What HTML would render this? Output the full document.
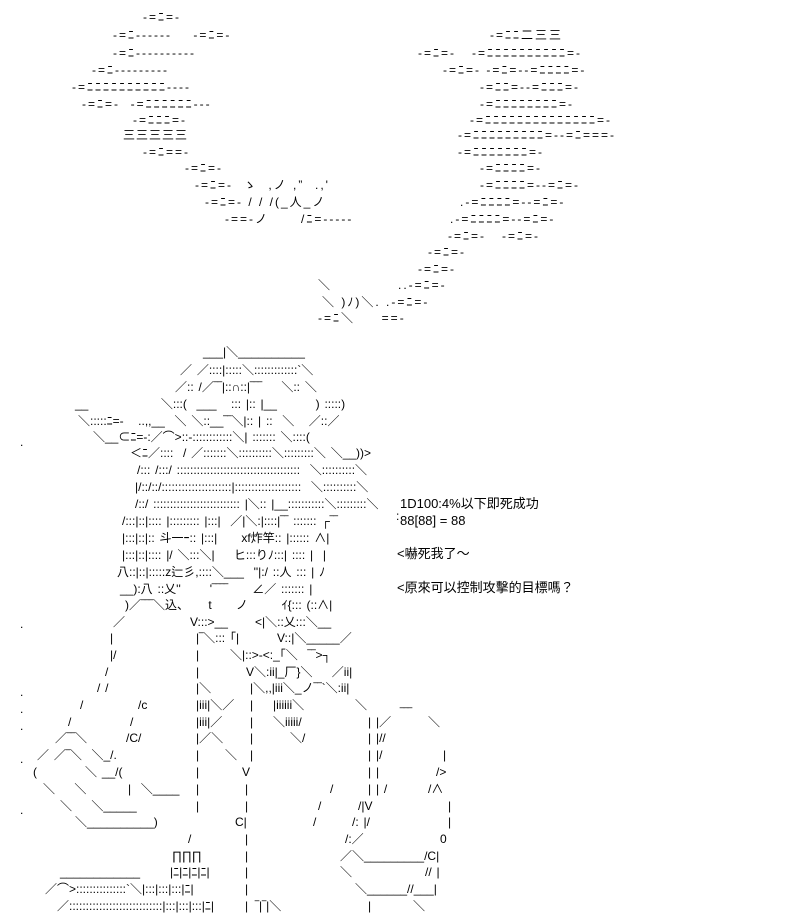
<!DOCTYPE html>
<html><head><meta charset="utf-8"><style>
body{margin:0;background:#fff;width:800px;height:924px;overflow:hidden;position:relative}
.l{position:absolute;white-space:pre;font-family:"Liberation Sans","Noto Sans CJK JP",sans-serif;font-size:12px;line-height:16px;color:#000;word-spacing:1.5px}
.c{letter-spacing:2px;word-spacing:0}
.t{font-size:13px;word-spacing:0}
</style></head><body>
<div class="l c" style="left:143px;top:9px">-=ﾆ=-</div>
<div class="l c" style="left:113px;top:27px">-=ﾆ------    -=ﾆ=-</div>
<div class="l c" style="left:490px;top:27px">-=ﾆﾆ二三三</div>
<div class="l c" style="left:113px;top:45px">-=ﾆ----------</div>
<div class="l c" style="left:418px;top:45px">-=ﾆ=-   -=ﾆﾆﾆﾆﾆﾆﾆﾆﾆﾆ=-</div>
<div class="l c" style="left:92px;top:62px">-=ﾆ---------</div>
<div class="l c" style="left:443px;top:62px">-=ﾆ=- -=ﾆ=--=ﾆﾆﾆﾆ=-</div>
<div class="l c" style="left:72px;top:79px">-=ﾆﾆﾆﾆﾆﾆﾆﾆﾆﾆ----</div>
<div class="l c" style="left:480px;top:79px">-=ﾆﾆ=--=ﾆﾆﾆ=-</div>
<div class="l c" style="left:82px;top:96px">-=ﾆ=-  -=ﾆﾆﾆﾆﾆﾆ---</div>
<div class="l c" style="left:480px;top:96px">-=ﾆﾆﾆﾆﾆﾆﾆﾆ=-</div>
<div class="l c" style="left:133px;top:112px">-=ﾆﾆﾆ=-</div>
<div class="l c" style="left:470px;top:112px">-=ﾆﾆﾆﾆﾆﾆﾆﾆﾆﾆﾆﾆﾆﾆ=-</div>
<div class="l" style="left:123px;top:127px;letter-spacing:1px">三三三三三</div>
<div class="l c" style="left:458px;top:127px">-=ﾆﾆﾆﾆﾆﾆﾆﾆﾆ=--=ﾆ===-</div>
<div class="l c" style="left:143px;top:144px">-=ﾆ==-</div>
<div class="l c" style="left:458px;top:144px">-=ﾆﾆﾆﾆﾆﾆﾆ=-</div>
<div class="l c" style="left:185px;top:160px">-=ﾆ=-</div>
<div class="l c" style="left:480px;top:160px">-=ﾆﾆﾆﾆ=-</div>
<div class="l c" style="left:195px;top:177px">-=ﾆ=-  ゝ  ,ノ ,”  .,'</div>
<div class="l c" style="left:480px;top:177px">-=ﾆﾆﾆﾆ=--=ﾆ=-</div>
<div class="l c" style="left:205px;top:194px">-=ﾆ=- / / /(_人_ノ</div>
<div class="l c" style="left:460px;top:194px">.-=ﾆﾆﾆﾆ=--=ﾆ=-</div>
<div class="l c" style="left:225px;top:211px">-==-ノ      /ﾆ=-----</div>
<div class="l c" style="left:450px;top:211px">.-=ﾆﾆﾆﾆ=--=ﾆ=-</div>
<div class="l c" style="left:448px;top:228px">-=ﾆ=-   -=ﾆ=-</div>
<div class="l c" style="left:428px;top:244px">-=ﾆ=-</div>
<div class="l c" style="left:418px;top:261px">-=ﾆ=-</div>
<div class="l" style="left:318px;top:277px">＼</div>
<div class="l c" style="left:398px;top:277px">..-=ﾆ=-</div>
<div class="l c" style="left:322px;top:294px">＼ )ﾉ)＼. .-=ﾆ=-</div>
<div class="l c" style="left:318px;top:310px">-=ﾆ＼     ==-</div>

<div class="l" style="left:203px;top:344px">___|＼__________</div>
<div class="l" style="left:180px;top:362px">／ ／::::|:::::＼:::::::::::::`＼</div>
<div class="l" style="left:175px;top:379px">／:: /／‾‾|::∩::|‾‾‾    ＼:: ＼</div>
<div class="l" style="left:75px;top:396px">__               ＼:::(  ___   ::: |:: |__        ) :::::)</div>
<div class="l" style="left:78px;top:413px">＼:::::ﾆ=-   ..,,__  ＼ ＼::__‾‾＼|:: | ::  ＼   ／::／</div>
<div class="l" style="left:93px;top:429px">＼__⊂ﾆ=-:／⌒>::-::::::::::::＼| ::::::: ＼::::(</div>
<div class="l" style="left:130px;top:445px">＜ﾆ／::::  / ／:::::::＼::::::::::＼:::::::::＼ ＼__))&gt;</div>
<div class="l" style="left:137px;top:462px">/::: /:::/ :::::::::::::::::::::::::::::::::::::  ＼::::::::::＼</div>
<div class="l" style="left:135px;top:479px">|/::/::/:::::::::::::::::::::|::::::::::::::::::::  ＼::::::::::＼</div>
<div class="l" style="left:135px;top:496px">/::/ :::::::::::::::::::::::::: |＼:: |__:::::::::::＼:::::::::＼</div>
<div class="l" style="left:122px;top:513px">/:::|::|:::: |::::::::: |:::|  ／|＼:|::::|‾‾ ::::::: ┌‾‾</div>
<div class="l" style="left:122px;top:530px">|:::|::|:: 斗一ｰ:: |:::|     xf炸竿:: |:::::: ∧|</div>
<div class="l" style="left:122px;top:547px">|:::|::|:::: |/ ＼:::＼|    ヒ:::りﾉ:::| :::: |  |</div>
<div class="l" style="left:117px;top:564px">八::|::|:::::z辷彡,::::＼___  ''|:/ ::人 ::: | ﾉ</div>
<div class="l" style="left:120px;top:581px">__):八 ::乂''      '‾‾‾‾     ∠／ ::::::: |</div>
<div class="l" style="left:125px;top:597px">)／‾‾‾＼込、    t     ノ       ｲ{::: (::∧|</div>
<div class="l" style="left:113px;top:614px">／</div><div class="l" style="left:190px;top:614px">V:::&gt;__</div><div class="l" style="left:255px;top:614px">&lt;|＼::乂:::＼__</div>

<div class="l" style="left:110px;top:630px">|</div><div class="l" style="left:196px;top:630px">|‾＼::: ｢|</div><div class="l" style="left:277px;top:630px">V::|＼_____／</div>
<div class="l" style="left:110px;top:647px">|/</div><div class="l" style="left:196px;top:647px">|</div><div class="l" style="left:230px;top:647px">＼|::&gt;-&lt;:_｢＼  ‾‾&gt;┐</div>
<div class="l" style="left:105px;top:664px">/</div><div class="l" style="left:196px;top:664px">|</div><div class="l" style="left:246px;top:664px">V＼:ii|_厂}＼    ／ii|</div>
<div class="l" style="left:97px;top:680px">/ /</div><div class="l" style="left:196px;top:680px">|＼</div><div class="l" style="left:250px;top:680px">|＼,,|iii＼_ノ‾‾`＼:ii|</div>
<div class="l" style="left:80px;top:697px">/</div><div class="l" style="left:138px;top:697px">/c</div><div class="l" style="left:196px;top:697px">|iii|＼／</div><div class="l" style="left:250px;top:697px">|</div><div class="l" style="left:273px;top:697px">|iiiiii＼</div><div class="l" style="left:355px;top:697px">＼</div>
<div class="l" style="left:68px;top:714px">/</div><div class="l" style="left:130px;top:714px">/</div><div class="l" style="left:196px;top:714px">|iii|／</div><div class="l" style="left:250px;top:714px">|</div><div class="l" style="left:273px;top:714px">＼iiiii/</div><div class="l" style="left:368px;top:714px">| |／</div><div class="l" style="left:400px;top:705px">‾‾‾</div><div class="l" style="left:428px;top:714px">＼</div>
<div class="l" style="left:55px;top:730px">／‾‾＼</div><div class="l" style="left:126px;top:730px">/C/</div><div class="l" style="left:196px;top:730px">|／＼</div><div class="l" style="left:250px;top:730px">|</div><div class="l" style="left:290px;top:730px">＼/</div><div class="l" style="left:368px;top:730px">| |//</div>
<div class="l" style="left:37px;top:747px">／ ／‾＼  ＼_/.</div><div class="l" style="left:196px;top:747px">|</div><div class="l" style="left:225px;top:747px">＼</div><div class="l" style="left:250px;top:747px">|</div><div class="l" style="left:368px;top:747px">| |/</div><div class="l" style="left:443px;top:747px">|</div>
<div class="l" style="left:33px;top:764px">(</div><div class="l" style="left:85px;top:764px">＼ __/(</div><div class="l" style="left:196px;top:764px">|</div><div class="l" style="left:242px;top:764px">V</div><div class="l" style="left:368px;top:764px">| |</div><div class="l" style="left:436px;top:764px">/&gt;</div>
<div class="l" style="left:43px;top:781px">＼    ＼</div><div class="l" style="left:128px;top:781px">|  ＼____</div><div class="l" style="left:196px;top:781px">|</div><div class="l" style="left:245px;top:781px">|</div><div class="l" style="left:330px;top:781px">/</div><div class="l" style="left:368px;top:781px">| | /</div><div class="l" style="left:428px;top:781px">/∧</div>
<div class="l" style="left:60px;top:798px">＼    ＼_____</div><div class="l" style="left:196px;top:798px">|</div><div class="l" style="left:245px;top:798px">|</div><div class="l" style="left:318px;top:798px">/</div><div class="l" style="left:358px;top:798px">/|V</div><div class="l" style="left:448px;top:798px">|</div>
<div class="l" style="left:75px;top:814px">＼__________)</div><div class="l" style="left:235px;top:814px">C|</div><div class="l" style="left:313px;top:814px">/</div><div class="l" style="left:352px;top:814px">/: |/</div><div class="l" style="left:448px;top:814px">|</div>
<div class="l" style="left:188px;top:831px">/</div><div class="l" style="left:245px;top:831px">|</div><div class="l" style="left:345px;top:831px">/:／</div><div class="l" style="left:440px;top:831px">0</div>
<div class="l" style="left:172px;top:848px">∏∏∏</div><div class="l" style="left:245px;top:848px">|</div><div class="l" style="left:340px;top:848px">／＼_________/C|</div>
<div class="l" style="left:170px;top:864px">|ﾆ|ﾆ|ﾆ|ﾆ|</div><div class="l" style="left:245px;top:864px">|</div><div class="l" style="left:340px;top:864px">＼</div><div class="l" style="left:425px;top:864px">// |</div>
<div class="l" style="left:60px;top:864px">____________</div>
<div class="l" style="left:45px;top:881px">／⌒&gt;:::::::::::::::`＼|:::|:::|:::|ﾆ|</div><div class="l" style="left:245px;top:881px">|</div><div class="l" style="left:355px;top:881px">＼______//___|</div>
<div class="l" style="left:57px;top:898px">／::::::::::::::::::::::::::::|:::|:::|:::|ﾆ|</div><div class="l" style="left:245px;top:898px">|</div><div class="l" style="left:255px;top:898px">‾|‾|＼</div><div class="l" style="left:368px;top:898px">|</div><div class="l" style="left:413px;top:898px">＼</div>

<div class="l" style="left:20px;top:434px">.</div>
<div class="l" style="left:20px;top:616px">.</div>
<div class="l" style="left:20px;top:684px">.</div>
<div class="l" style="left:20px;top:701px">.</div>
<div class="l" style="left:20px;top:718px">.</div>
<div class="l" style="left:20px;top:751px">.</div>
<div class="l" style="left:20px;top:802px">.</div>
<div class="l" style="left:396px;top:508px">:</div>

<div class="l t" style="left:400px;top:496px">1D100:4%以下即死成功</div>
<div class="l t" style="left:400px;top:513px">88[88] = 88</div>
<div class="l t" style="left:397px;top:546px">&lt;嚇死我了～</div>
<div class="l t" style="left:397px;top:580px">&lt;原來可以控制攻擊的目標嗎？</div>
</body></html>
